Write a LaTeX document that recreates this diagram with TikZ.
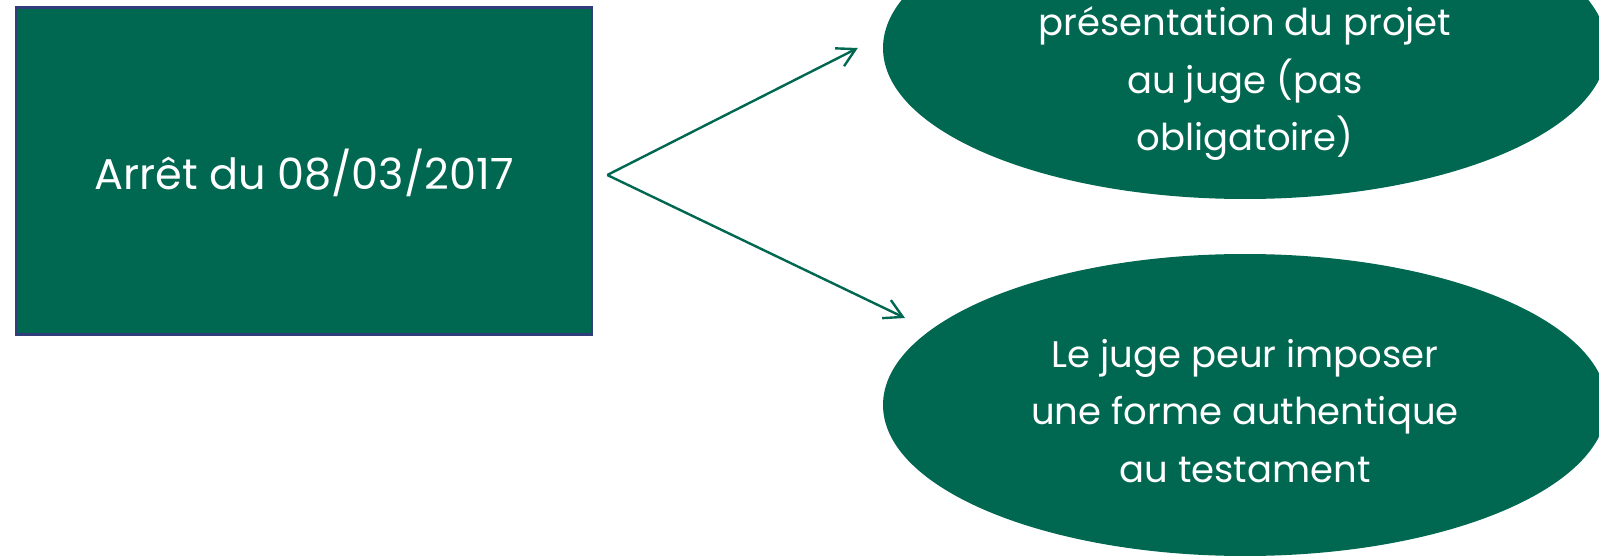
\documentclass[tikz,border=0pt]{standalone}
\usepackage{fontspec}
\setmainfont{Poppins}
\usetikzlibrary{shapes.geometric,arrows.meta,positioning,calc}
\definecolor{CourtGreen}{RGB}{0,103,81}
\definecolor{EdgeBlue}{RGB}{47,62,120}
\tikzset{
  datebox/.style={draw=EdgeBlue,fill=CourtGreen,line width=2.5pt,
                  minimum width=576pt,minimum height=327pt,inner sep=0pt,
                  text height=42pt,text depth=4pt,
                  text=white,font=\fontsize{43}{50}\selectfont},
  ovalbox/.style={ellipse,fill=CourtGreen,minimum width=724pt,
                  minimum height=302pt,inner sep=0pt},
  ovaltext/.style={text=white,align=center,inner sep=0pt,
                   font=\fontsize{37}{57.5}\selectfont},
  arr/.style={-{Straight Barb[length=18pt,width=20pt]},CourtGreen,line width=2.4pt},
}

\begin{document}
\begin{tikzpicture}[x=1pt,y=-1pt]
    \useasboundingbox (0,0) rectangle (1599,556);
    \clip (0,0) rectangle (1599,556);

    % Decision box
    \node[datebox] (arret) at (304,171) {Arrêt du 08/03/2017};

    % Consequences
    \node[ovalbox] (ovalA) at (1245,48) {};
    \node[ovalbox] (ovalB) at (1245,405) {};
    \node[ovaltext] (txtA) at (1245,84) {présentation du projet\\au juge (pas\\obligatoire)};
    \node[ovaltext] (txtB) at (1245,411) {Le juge peur imposer\\une forme authentique\\au testament};

    % Arrows
    \coordinate (fork) at ([xshift=14pt,yshift=-4pt]arret.east);
    \coordinate (tipA) at ([xshift=-25pt]ovalA.west);
    \coordinate (tipB) at (905,318);
    \draw[arr] (fork) -- (tipA);
    \draw[arr] (fork) -- (tipB);
\end{tikzpicture}
\end{document}
